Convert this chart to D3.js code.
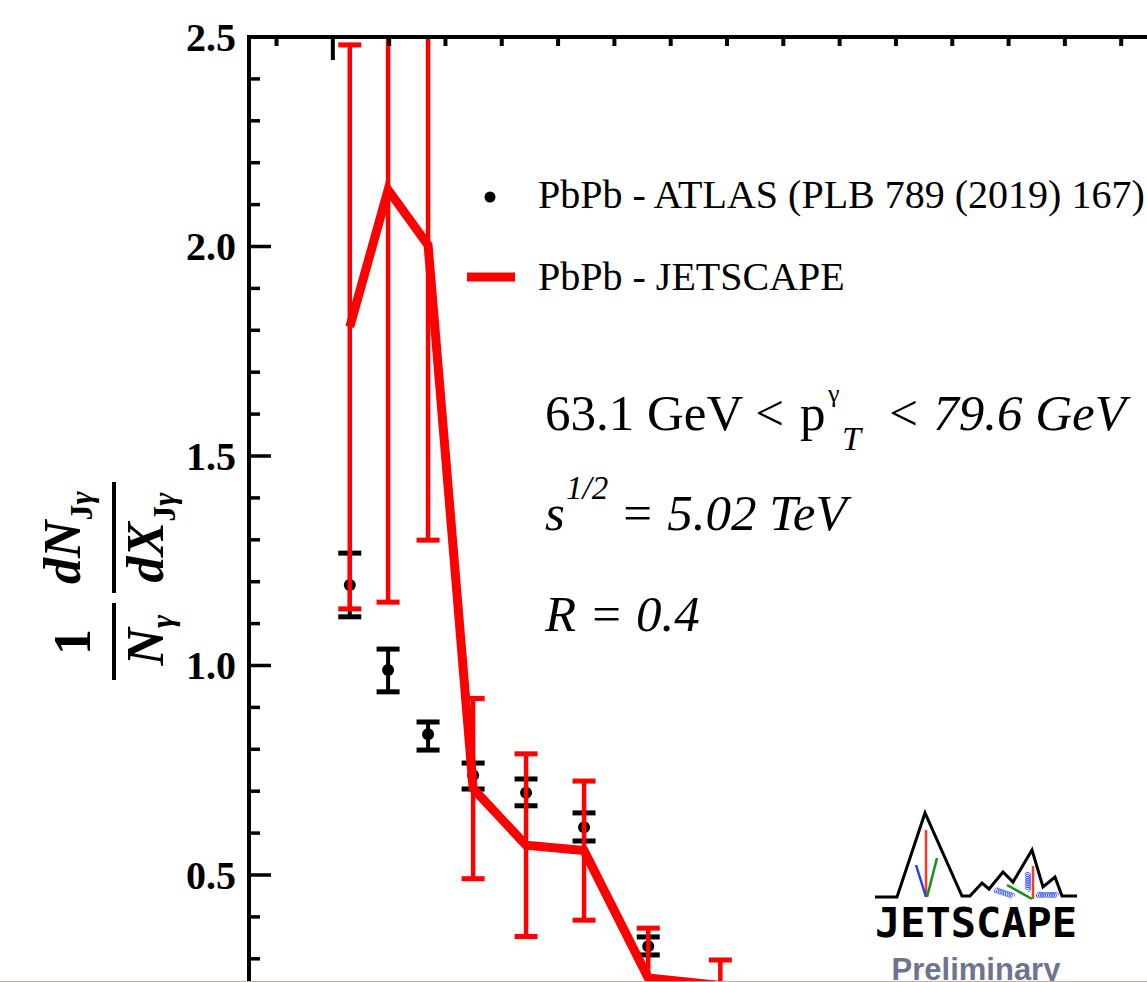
<!DOCTYPE html>
<html>
<head>
<meta charset="utf-8">
<script src="https://cdn.jsdelivr.net/npm/d3@7"></script>
<style>
  html, body { margin: 0; padding: 0; background: #ffffff; overflow: hidden; }
  svg { display: block; }
</style>
</head>
<body>
<svg id="chart" width="1147" height="982"></svg>
<script>
// x_Jgamma bin positions shared by both series
const xBins = [0.531, 0.599, 0.670, 0.750, 0.844, 0.947, 1.061, 1.189];

// ATLAS PbPb measurement (value with lower / upper ends of the error bar)
const atlasX = [0.531, 0.599, 0.670, 0.750, 0.844, 0.947, 1.061];
const atlasVal = [1.191, 0.988, 0.835, 0.737, 0.695, 0.613, 0.329];
const atlasLo = [1.115, 0.936, 0.797, 0.704, 0.664, 0.580, 0.308];
const atlasHi = [1.267, 1.038, 0.864, 0.766, 0.728, 0.647, 0.351];

// JETSCAPE PbPb calculation (central value and symmetric uncertainty)
const jetVal = [1.807, 2.134, 2.002, 0.705, 0.570, 0.557, 0.253, 0.235];
const jetErr = [0.673, 0.984, 0.704, 0.215, 0.218, 0.166, 0.119, 0.061];

// axis ticks
const yMajorTicks = [0.5, 1.0, 1.5, 2.0, 2.5];
const yMinorTicks = [0.3, 0.4, 0.6, 0.7, 0.8, 0.9, 1.1, 1.2, 1.3, 1.4, 1.6, 1.7, 1.8, 1.9, 2.1, 2.2, 2.3, 2.4];
const xMajorTicks = [0.5];
const xMinorTicks = [0.4, 0.6, 0.7, 0.8, 0.9, 1.0, 1.1, 1.2, 1.3, 1.4, 1.5, 1.6, 1.7, 1.8, 1.9];

// legend entries
const legendLabels = ["PbPb - ATLAS (PLB 789 (2019) 167)", "PbPb - JETSCAPE"];

const W = 1147, H = 982;
const svg = d3.select("#chart");
const RED = "#ff0000";

const x = d3.scaleLinear().domain([0.352, 2.0]).range([249, 1177]);
const y = d3.scaleLinear().domain([0, 2.5]).range([1084, 36.5]);

svg.append("rect").attr("width", W).attr("height", H).attr("fill", "#ffffff");

const defs = svg.append("defs");
defs.append("clipPath").attr("id", "plotClip")
  .append("rect").attr("x", 249).attr("y", 37).attr("width", W - 249).attr("height", H - 37);

const plot = svg.append("g").attr("clip-path", "url(#plotClip)");

// ATLAS points with error bars
const capW = 23;
const atlas = plot.append("g").selectAll("g").data(atlasX.map((v, i) => i)).join("g");
atlas.append("line")
  .attr("x1", i => x(atlasX[i])).attr("x2", i => x(atlasX[i]))
  .attr("y1", i => y(atlasLo[i])).attr("y2", i => y(atlasHi[i]))
  .attr("stroke", "#000").attr("stroke-width", 4);
[atlasLo, atlasHi].forEach(arr => {
  atlas.append("line")
    .attr("x1", i => x(atlasX[i]) - capW / 2).attr("x2", i => x(atlasX[i]) + capW / 2)
    .attr("y1", i => y(arr[i])).attr("y2", i => y(arr[i]))
    .attr("stroke", "#000").attr("stroke-width", 5);
});
atlas.append("circle")
  .attr("cx", i => x(atlasX[i])).attr("cy", i => y(atlasVal[i]))
  .attr("r", 6).attr("fill", "#000");

// JETSCAPE error bars
const jet = plot.append("g").selectAll("g").data(xBins.map((v, i) => i)).join("g");
jet.append("line")
  .attr("x1", i => x(xBins[i])).attr("x2", i => x(xBins[i]))
  .attr("y1", i => y(jetVal[i] - jetErr[i])).attr("y2", i => y(jetVal[i] + jetErr[i]))
  .attr("stroke", RED).attr("stroke-width", 4.5);
[-1, 1].forEach(s => {
  jet.append("line")
    .attr("x1", i => x(xBins[i]) - capW / 2).attr("x2", i => x(xBins[i]) + capW / 2)
    .attr("y1", i => y(jetVal[i] + s * jetErr[i])).attr("y2", i => y(jetVal[i] + s * jetErr[i]))
    .attr("stroke", RED).attr("stroke-width", 5);
});

// JETSCAPE central curve
plot.append("path")
  .datum(xBins.map((v, i) => [v, jetVal[i]]))
  .attr("d", d3.line().x(d => x(d[0])).y(d => y(d[1])))
  .attr("fill", "none").attr("stroke", RED).attr("stroke-width", 9)
  .attr("stroke-linejoin", "miter");

// frame axes
const axisFont = "'Liberation Serif', 'Times New Roman', serif";

function styleAxis(g, width) {
  g.selectAll(".tick line").attr("stroke", "#000").attr("stroke-width", width);
  g.select(".domain").remove();
}

const yMajorG = svg.append("g").attr("transform", "translate(249,0)")
  .call(d3.axisLeft(y).tickValues(yMajorTicks).tickSize(-22).tickPadding(13)
    .tickFormat(d3.format(".1f")));
styleAxis(yMajorG, 3.5);
yMajorG.selectAll(".tick text")
  .attr("font-family", axisFont).attr("font-weight", "bold")
  .attr("font-size", 40).attr("fill", "#000").attr("dy", "0.34em");

const yMinorG = svg.append("g").attr("transform", "translate(249,0)")
  .call(d3.axisLeft(y).tickValues(yMinorTicks).tickSize(-11).tickFormat(""));
styleAxis(yMinorG, 3.5);

const xMajorG = svg.append("g").attr("transform", "translate(0,37)")
  .call(d3.axisTop(x).tickValues(xMajorTicks).tickSize(-23).tickFormat(""));
styleAxis(xMajorG, 4);
const xMinorG = svg.append("g").attr("transform", "translate(0,37)")
  .call(d3.axisTop(x).tickValues(xMinorTicks).tickSize(-9).tickFormat(""));
styleAxis(xMinorG, 4);

// frame lines
svg.append("line").attr("x1", 247).attr("x2", W).attr("y1", 37).attr("y2", 37)
  .attr("stroke", "#000").attr("stroke-width", 4);
svg.append("line").attr("x1", 249).attr("x2", 249).attr("y1", 35).attr("y2", H)
  .attr("stroke", "#000").attr("stroke-width", 4);

// y-axis title: (1 / N_gamma) dN_Jgamma / dX_Jgamma
const ylab = svg.append("g").attr("transform", "rotate(-90)")
  .attr("font-family", axisFont).attr("font-weight", "bold").attr("fill", "#000");
const mainFs = 52, subFs = 32;

function fracPart(u, v, parts) {
  const t = ylab.append("text").attr("x", u).attr("y", v).attr("text-anchor", "middle");
  parts.forEach(p => {
    const ts = t.append("tspan").text(p.t).attr("font-size", p.sub ? subFs : mainFs)
      .attr("font-style", p.it ? "italic" : "normal");
    if (p.dy) ts.attr("dy", p.dy);
  });
}
// 1 / N_gamma
fracPart(-642, 90, [{ t: "1" }]);
ylab.append("line").attr("x1", -680).attr("x2", -603).attr("y1", 114).attr("y2", 114)
  .attr("stroke", "#000").attr("stroke-width", 4);
fracPart(-640, 163, [{ t: "N", it: true }, { t: "γ", it: true, sub: true, dy: 10 }]);
// dN / dX
fracPart(-537.5, 80, [{ t: "dN", it: true }, { t: "J", sub: true, dy: 12 }, { t: "γ", it: true, sub: true }]);
ylab.append("line").attr("x1", -593).attr("x2", -482).attr("y1", 114).attr("y2", 114)
  .attr("stroke", "#000").attr("stroke-width", 4);
fracPart(-537.5, 163, [{ t: "dX", it: true }, { t: "J", sub: true, dy: 12 }, { t: "γ", it: true, sub: true }]);

// legend
const leg = svg.append("g").attr("font-family", axisFont).attr("font-size", 40).attr("fill", "#000");
leg.append("circle").attr("cx", 490).attr("cy", 197).attr("r", 5.5).attr("fill", "#000");
leg.append("line").attr("x1", 467).attr("x2", 515).attr("y1", 277).attr("y2", 277)
  .attr("stroke", RED).attr("stroke-width", 9);
leg.selectAll("text.lg").data(legendLabels).join("text").attr("class", "lg")
  .attr("x", 538).attr("y", (d, i) => 208 + i * 82).text(d => d);

// kinematic annotations
const annFs = 51;
const ann = svg.append("g").attr("font-family", axisFont).attr("fill", "#000");
ann.append("text").attr("x", 545).attr("y", 430).attr("font-size", annFs).text("63.1 GeV <");
ann.append("text").attr("x", 800).attr("y", 430).attr("font-size", annFs).text("p");
ann.append("text").attr("x", 828).attr("y", 402).attr("font-size", 26).text("γ");
ann.append("text").attr("x", 842).attr("y", 450).attr("font-size", 34).attr("font-style", "italic").text("T");
ann.append("text").attr("x", 886).attr("y", 430).attr("font-size", annFs).attr("font-style", "italic").text("< 79.6 GeV");

ann.append("text").attr("x", 545).attr("y", 530).attr("font-size", annFs).attr("font-style", "italic").text("s");
ann.append("text").attr("x", 566).attr("y", 499).attr("font-size", 33).attr("font-style", "italic").text("1/2");
ann.append("text").attr("x", 620).attr("y", 530).attr("font-size", annFs).attr("font-style", "italic").text("= 5.02 TeV");

ann.append("text").attr("x", 545).attr("y", 631).attr("font-size", annFs).attr("font-style", "italic").text("R = 0.4");

// JETSCAPE logo
const logo = svg.append("g");
const mountain = [[875, 897], [897, 897], [925, 813], [962, 896], [970, 896], [982, 883], [989, 889],
  [1003, 872], [1013, 882], [1032, 850], [1043, 887], [1055, 877], [1062, 896], [1077, 896]];
logo.append("path").attr("d", d3.line()(mountain)).attr("fill", "none")
  .attr("stroke", "#000").attr("stroke-width", 3).attr("stroke-linejoin", "miter");
const strokes = [
  { p: [[926, 830], [926, 897]], c: "#ff3b1f" },
  { p: [[916, 865], [926, 897]], c: "#1f3cff" },
  { p: [[937, 858], [927, 897]], c: "#13901a" },
  { p: [[1033, 866], [1033, 899]], c: "#ff3b1f" },
  { p: [[1007, 885], [1032, 899]], c: "#13901a" }
];
strokes.forEach(s => logo.append("path").attr("d", d3.line()(s.p))
  .attr("stroke", s.c).attr("stroke-width", 2.5).attr("fill", "none"));

function coil(p0, p1, loops, r) {
  const dx = p1[0] - p0[0], dy = p1[1] - p0[1];
  const len = Math.hypot(dx, dy);
  const ux = dx / len, uy = dy / len, px = -uy, py = ux;
  const pts = [];
  const n = loops * 16;
  for (let k = 0; k <= n; k++) {
    const t = k / n, a = 2 * Math.PI * loops * t;
    const bx = p0[0] + dx * t, by = p0[1] + dy * t;
    pts.push([bx + ux * r * 0.6 * Math.cos(a) + px * r * Math.sin(a),
              by + uy * r * 0.6 * Math.cos(a) + py * r * Math.sin(a)]);
  }
  return d3.line()(pts);
}
[[[995, 890], [1013, 896], 8], [[1028, 873], [1028, 890], 8], [[1037, 895], [1057, 895], 9]]
  .forEach(c => logo.append("path").attr("d", coil(c[0], c[1], c[2], 2.6))
    .attr("fill", "none").attr("stroke", "#2a4bff").attr("stroke-width", 0.9));

logo.append("text").attr("x", 875).attr("y", 937)
  .attr("font-family", "'DejaVu Sans Mono', monospace").attr("font-weight", "bold")
  .attr("font-size", 40).attr("textLength", 202).attr("lengthAdjust", "spacingAndGlyphs")
  .attr("fill", "#000").text("JETSCAPE");
logo.append("text").attr("x", 976).attr("y", 980).attr("text-anchor", "middle")
  .attr("font-family", "'Liberation Sans', Arial, sans-serif").attr("font-weight", "bold")
  .attr("font-size", 31).attr("fill", "#6e7490").text("Preliminary");

// bottom edge line
svg.append("rect").attr("x", 0).attr("y", 981).attr("width", W).attr("height", 1).attr("fill", "#dba983");
</script>
</body>
</html>
